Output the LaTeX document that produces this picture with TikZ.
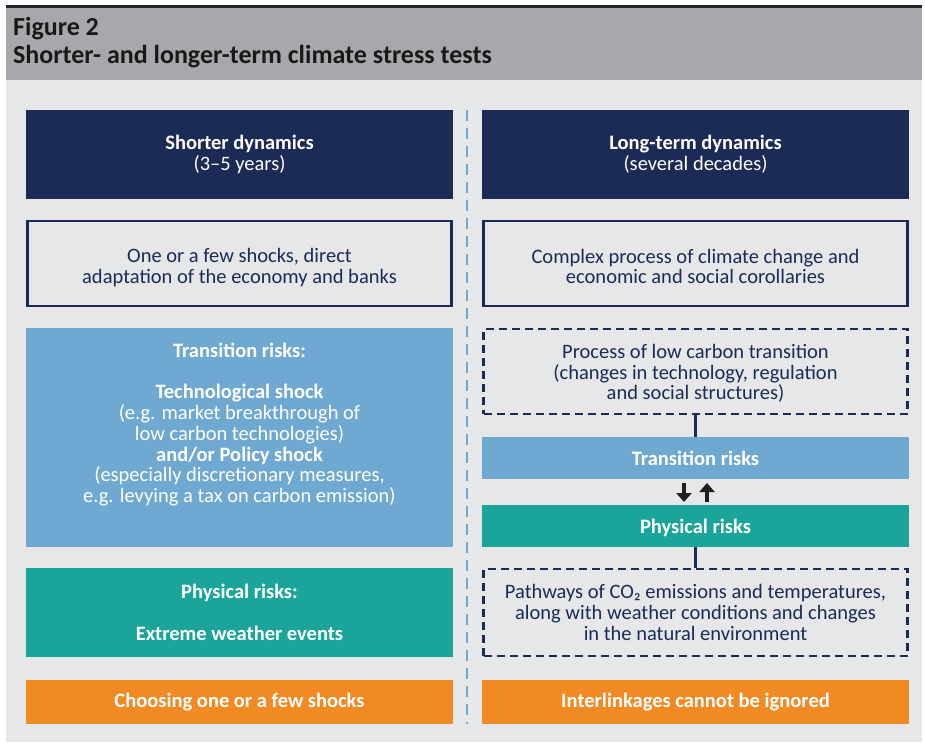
\documentclass[tikz,border=0pt]{standalone}
\usepackage{fontspec}
\setmainfont{Carlito}
\usetikzlibrary{arrows.meta}
\definecolor{navy}{HTML}{1B2B55}
\definecolor{lblue}{HTML}{6FA8D0}
\definecolor{teal2}{HTML}{1BA59A}
\definecolor{orng}{HTML}{F28A23}
\definecolor{bgray}{HTML}{E6E7E9}
\definecolor{hgray}{HTML}{A7A8AB}
\definecolor{ink}{HTML}{1B2B55}
\tikzset{
  cell/.style={rectangle, inner sep=0pt, minimum width=427pt, align=center, font=\fontsize{20.5}{20.7}\selectfont},
  txt/.style={align=center, inner sep=0pt, font=\fontsize{20.5}{20.7}\selectfont},
  navybox/.style={cell, fill=navy, text=white},
  outbox/.style={cell, fill=bgray, draw=navy, line width=2.8pt, text=ink},
  dashbox/.style={cell, fill=bgray, draw=navy, line width=2.8pt, dash pattern=on 8pt off 5pt, text=ink},
  bluebox/.style={cell, fill=lblue, text=white},
  tealbox/.style={cell, fill=teal2, text=white},
  orangebox/.style={cell, fill=orng, text=white, font=\bfseries\fontsize{20.5}{20.7}\selectfont},
  link/.style={draw=navy, line width=2.8pt},
  blkarrow/.style={draw=black!88, line width=4.5pt, -{Triangle[length=9pt,width=15pt]}}
}
\begin{document}
\begin{tikzpicture}[x=1pt,y=-1pt]
\useasboundingbox (0,0) rectangle (925,743);
\fill[white] (0,0) rectangle (925,743);
\fill[black!85] (6,5) rectangle (922,8);
\fill[hgray] (6,8) rectangle (922,80);
\fill[bgray] (6,80) rectangle (922,742);
\node[anchor=base west, font=\bfseries\fontsize{26}{28}\selectfont, text=black!90, inner sep=0pt] (fig) at (13,36) {Figure 2};
\node[anchor=base west, font=\bfseries\fontsize{26}{28}\selectfont, text=black!90, inner sep=0pt] (title) at (13,64) {Shorter- and longer-term climate stress tests};

\coordinate (dtop) at (467,110);
\coordinate (dbot) at (467,724);
\draw[lblue, line width=2.5pt, dash pattern=on 11pt off 7pt] (dtop) -- (dbot);

% left column
\node[navybox, minimum height=89pt] (ls) at (239.5,154.5) {\textbf{Shorter dynamics}\\(3–5 years)};
\node[outbox, minimum height=85pt, minimum width=424pt, label={[txt, text=ink, yshift=-4pt]center:One or a few shocks, direct\\adaptation of the economy and banks}] (lo) at (239.5,263.5) {};
\node[bluebox, minimum height=219pt, label={[txt, text=white, yshift=13pt]center:\textbf{Transition risks:}\\[20.7pt]\textbf{Technological shock}\\(e.g. market breakthrough of\\low carbon technologies)\\\textbf{and/or Policy shock}\\(especially discretionary measures,\\e.g. levying a tax on carbon emission)}] (lt) at (239.5,437.5) {};
\node[tealbox, minimum height=89pt] (lp) at (239.5,612.5) {\textbf{Physical risks:}\\[20.7pt]\textbf{Extreme weather events}};
\node[orangebox, minimum height=44pt] (lc) at (239.5,702) {Choosing one or a few shocks};

% right column
\node[navybox, minimum height=89pt] (rs) at (695.5,154.5) {\textbf{Long-term dynamics}\\(several decades)};
\node[outbox, minimum height=85pt, minimum width=424pt, label={[txt, text=ink, yshift=-3pt]center:Complex process of climate change and\\economic and social corollaries}] (ro) at (695.5,263.5) {};
\node[dashbox, minimum height=85pt, minimum width=424pt, label={[txt, text=ink, yshift=-2pt]center:Process of low carbon transition\\(changes in technology, regulation\\and social structures)}] (rd1) at (695.5,371.5) {};
\node[bluebox, minimum height=42pt, font=\bfseries\fontsize{20.5}{20.7}\selectfont] (rt) at (695.5,458) {Transition risks};
\node[tealbox, minimum height=42pt, font=\bfseries\fontsize{20.5}{20.7}\selectfont, label={[txt, text=white, font=\bfseries\fontsize{20.5}{20.7}\selectfont, yshift=-2pt]center:Physical risks}] (rp) at (695.5,525.5) {};
\node[dashbox, minimum height=87pt, minimum width=424pt] (rd2) at (695.5,612.5) {Pathways of CO₂ emissions and temperatures,\\along with weather conditions and changes\\in the natural environment};
\node[orangebox, minimum height=44pt] (rc) at (695.5,702) {Interlinkages cannot be ignored};

\draw[link] (rd1.south) -- (rt.north);
\draw[link] (rp.south) -- (rd2.north);
\coordinate (a1s) at (684,483);
\coordinate (a1e) at (684,502);
\coordinate (a2s) at (707,502);
\coordinate (a2e) at (707,483);
\draw[blkarrow] (a1s) -- (a1e);
\draw[blkarrow] (a2s) -- (a2e);
\end{tikzpicture}
\end{document}
